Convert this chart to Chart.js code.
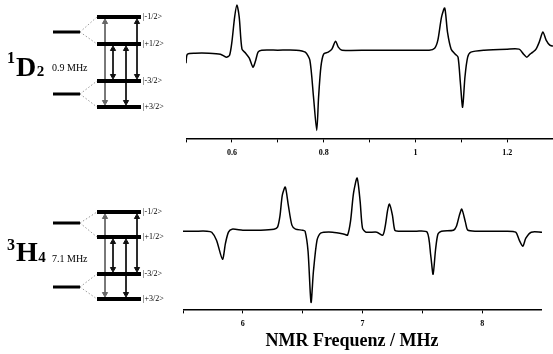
<!DOCTYPE html>
<html>
<head>
<meta charset="utf-8">
<script src="https://cdn.jsdelivr.net/npm/chart.js@4.4.1/dist/chart.umd.min.js"></script>
<style>
  body { margin: 0; background: #fff; width: 553px; height: 354px; overflow: hidden; position: relative; }
  canvas { position: absolute; }
  .title {
    position: absolute; left: 202px; top: 330px; width: 300px; line-height: 20px;
    text-align: center; color: #000;
    font: bold 18px "Liberation Serif", "Times New Roman", serif;
  }
</style>
</head>
<body>
<canvas id="diagD" width="180" height="120" style="left:0;top:0"></canvas>
<canvas id="specD" width="367" height="164" style="left:186px;top:0"></canvas>
<canvas id="diagH" width="180" height="120" style="left:0;top:190px"></canvas>
<canvas id="specH" width="359" height="165" style="left:183px;top:170px"></canvas>
<div class="title">NMR Frequenz / MHz</div>
<script>
// 1D2 spectrum (MHz, signal in arbitrary units, baseline = 0)
const freqD = [0.500, 0.503, 0.52, 0.55, 0.575, 0.588, 0.595, 0.600, 0.606, 0.611, 0.616, 0.622, 0.630,
  0.638, 0.646, 0.652, 0.657, 0.665, 0.70, 0.74, 0.76, 0.770, 0.778, 0.785, 0.789, 0.794, 0.800,
  0.810, 0.818, 0.826, 0.832, 0.840, 0.90, 0.98, 1.03, 1.042, 1.049, 1.057, 1.064, 1.070, 1.078,
  1.087, 1.093, 1.098, 1.103, 1.108, 1.114, 1.121, 1.15, 1.20, 1.226, 1.236, 1.243, 1.250, 1.256,
  1.263, 1.270, 1.278, 1.285, 1.293, 1.300];
const signalD = [-11, -2, -1, -1, -2, -5, -3, 10, 35, 47, 35, 3, -1,
  -6, -15, -8, 0, 2, 2, 2, 0, -8, -45, -78, -45, -15, -2,
  0, 3, 11, 5, 2, 2, 2, 2, 4, 12, 35, 44, 20, 3,
  -2, -5, -30, -55, -25, -5, 0, 2, 3, 3, -2, -5, -2, 0,
  3, 10, 20, 12, 7, 6];

// 3H4 spectrum
const freqH = [5.50, 5.60, 5.70, 5.74, 5.78, 5.83, 5.855, 5.88, 5.91, 6.00, 6.15, 6.26, 6.29, 6.31,
  6.33, 6.355, 6.38, 6.41, 6.44, 6.50, 6.52, 6.545, 6.57, 6.59, 6.62, 6.65, 6.75, 6.85, 6.875,
  6.90, 6.925, 6.955, 6.98, 7.00, 7.03, 7.12, 7.17, 7.19, 7.21, 7.225, 7.25, 7.27, 7.30, 7.45,
  7.54, 7.57, 7.59, 7.61, 7.63, 7.66, 7.76, 7.785, 7.81, 7.83, 7.86, 7.88, 7.95, 8.20, 8.28,
  8.31, 8.34, 8.365, 8.41, 8.50];
const signalH = [0, 0, 0, -1, -9, -28, -12, -1, 2, 1, 1, 2, 4, 15,
  36, 44, 26, 6, 2, 1, 0, -20, -71, -40, -9, -2, -1, -3, -4,
  10, 38, 53, 30, 3, -1, -1, -4, 5, 21, 27, 16, 1, 0, 0,
  -1, -24, -43, -19, -3, 0, 1, 5, 16, 22, 9, 1, 0, 0, -1,
  -9, -15, -7, -1, -1];

// energy level schematics (levels on the right: split sublevels, left: unsplit)
const stateLabels = ['|-1/2>', '|+1/2>', '|-3/2>', '|+3/2>'];
const levelsD = [103, 76, 39, 13];
const parentsD = [88, 26];
const levelsH = [98, 73, 36, 11];
const parentsH = [87, 23];
const transitions = [[0, 3], [1, 2], [1, 3], [0, 2]];

const serif = '"Liberation Serif", "Times New Roman", serif';

function spectrum(id, freq, signal, xMin, xMax, step, yMin, yMax, labelFn) {
  return new Chart(document.getElementById(id), {
    type: 'scatter',
    data: {
      datasets: [{
        data: freq.map((f, i) => ({ x: f, y: signal[i] })),
        showLine: true,
        borderColor: '#000',
        borderWidth: 1.5,
        pointRadius: 0,
        tension: 0.25
      }]
    },
    options: {
      responsive: false,
      animation: false,
      events: [],
      layout: { padding: 0, autoPadding: false },
      plugins: { legend: { display: false }, tooltip: { enabled: false } },
      scales: {
        x: {
          type: 'linear',
          min: xMin,
          max: xMax,
          afterFit: (s) => { s.paddingLeft = 0; s.paddingRight = 0; },
          border: { display: true, color: '#000', width: 1.5 },
          grid: { drawOnChartArea: false, drawTicks: true, tickLength: 4, color: '#000', lineWidth: 1 },
          ticks: {
            stepSize: step,
            autoSkip: false,
            maxRotation: 0,
            padding: 6,
            color: '#000',
            font: { family: serif, size: 8, weight: 'bold' },
            callback: labelFn
          }
        },
        y: { display: false, min: yMin, max: yMax }
      }
    }
  });
}

spectrum('specD', freqD, signalD, 0.5, 1.3, 0.1, -86, 52,
  v => Math.round(v * 10) % 2 === 0 ? String(+v.toFixed(1)) : '');
spectrum('specH', freqH, signalH, 5.5, 8.5, 0.5, -78, 61,
  v => Math.round(v * 2) % 2 === 0 ? String(Math.round(v)) : '');

function diagram(id, levels, parents, term) {
  const seg = (x0, x1, y) => [{ x: x0, y: y }, { x: x1, y: y }, { x: x1, y: null }];
  const connectors = [];
  parents.forEach((p, k) => {
    connectors.push({ x: 80, y: p }, { x: 97, y: levels[2 * k] }, { x: 97, y: null });
    connectors.push({ x: 80, y: p }, { x: 97, y: levels[2 * k + 1] }, { x: 97, y: null });
  });
  const arrowX = [105, 113, 126, 137];
  const arrows = transitions.map(([a, b], i) => ({
    data: [{ x: arrowX[i], y: levels[a] - 5 }, { x: arrowX[i], y: levels[b] + 5 }],
    showLine: true,
    borderColor: i === 0 ? '#666' : '#111',
    borderWidth: 1,
    pointStyle: 'triangle',
    pointRadius: 3,
    pointRotation: [0, 180],
    pointBackgroundColor: i === 0 ? '#666' : '#111',
    pointBorderColor: i === 0 ? '#666' : '#111',
    pointBorderWidth: 1
  }));

  const textPlugin = {
    id: 'labels',
    afterDraw(chart) {
      const { ctx, scales: { x, y } } = chart;
      ctx.save();
      ctx.fillStyle = '#000';
      ctx.textBaseline = 'middle';
      ctx.font = '8px ' + serif;
      levels.forEach((l, i) => ctx.fillText(stateLabels[i], x.getPixelForValue(143), y.getPixelForValue(l)));
      ctx.textBaseline = 'alphabetic';
      let px = x.getPixelForValue(7);
      ctx.font = 'bold 16px ' + serif;
      ctx.fillText(term.sup, px, y.getPixelForValue(term.supY));
      px += ctx.measureText(term.sup).width + 1;
      ctx.font = 'bold 28px ' + serif;
      ctx.fillText(term.letter, px, y.getPixelForValue(term.baseY));
      px += ctx.measureText(term.letter).width + 0.5;
      ctx.font = 'bold 15px ' + serif;
      ctx.fillText(term.sub, px, y.getPixelForValue(term.subY));
      ctx.font = '10px ' + serif;
      ctx.fillText(term.split, x.getPixelForValue(52), y.getPixelForValue(term.splitY));
      ctx.restore();
    }
  };

  return new Chart(document.getElementById(id), {
    type: 'scatter',
    data: {
      datasets: [
        { data: connectors, showLine: true, borderColor: '#999', borderWidth: 1, borderDash: [1.5, 2], pointRadius: 0 },
        { data: parents.flatMap(p => seg(53, 80, p)), showLine: true, borderColor: '#000', borderWidth: 3, pointRadius: 0 },
        { data: levels.flatMap(l => seg(97, 141, l)), showLine: true, borderColor: '#000', borderWidth: 4, pointRadius: 0 },
        ...arrows
      ]
    },
    options: {
      responsive: false,
      animation: false,
      events: [],
      layout: { padding: 0, autoPadding: false },
      plugins: { legend: { display: false }, tooltip: { enabled: false } },
      scales: {
        x: { display: false, min: 0, max: 180 },
        y: { display: false, min: 0, max: 120 }
      }
    },
    plugins: [textPlugin]
  });
}

diagram('diagD', levelsD, parentsD,
  { sup: '1', letter: 'D', sub: '2', split: '0.9 MHz', supY: 57, baseY: 44, subY: 44, splitY: 49 });
diagram('diagH', levelsH, parentsH,
  { sup: '3', letter: 'H', sub: '4', split: '7.1 MHz', supY: 60, baseY: 49, subY: 48, splitY: 48 });
</script>
</body>
</html>
